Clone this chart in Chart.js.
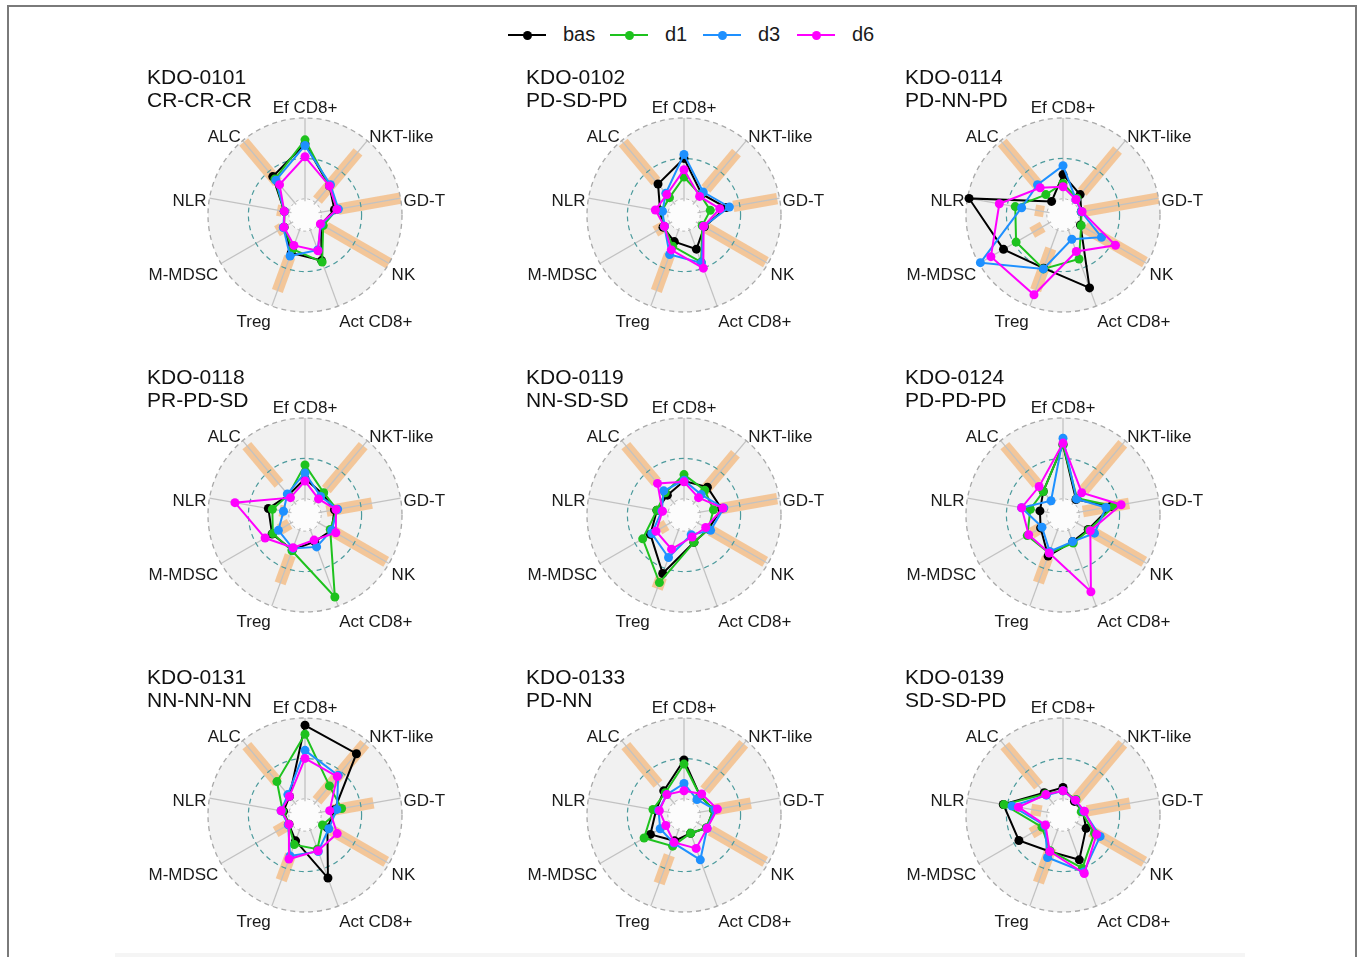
<!DOCTYPE html>
<html>
<head>
<meta charset="utf-8">
<script src="https://cdn.jsdelivr.net/npm/chart.js@4.4.1/dist/chart.umd.min.js"></script>
<style>
  html, body { margin: 0; padding: 0; background: #ffffff; }
  body { width: 1360px; height: 957px; position: relative; overflow: hidden;
         font-family: "Liberation Sans", Arial, Helvetica, sans-serif; }
  #frame { position: absolute; left: 7px; top: 5px; width: 1350px; height: 980px;
           border: 2px solid #7a7a7a; border-bottom: none; box-sizing: border-box; }
  #foot { position: absolute; left: 115px; top: 953px; width: 1130px; height: 4px; background: #f5f5f5; }
  canvas.radar { position: absolute; }
  .title { position: absolute; font-size: 21px; line-height: 22.5px; color: #111; white-space: pre; }
  .key-line { position: absolute; height: 2px; width: 38px; }
  .key-dot { position: absolute; width: 9px; height: 9px; border-radius: 50%; }
  .key-text { position: absolute; font-size: 20px; line-height: 24px; color: #1a1a1a; }
</style>
</head>
<body>
<div id="frame"></div>
<div id="foot"></div>
<div id="legend"></div>
<div id="panels"></div>
<script>
// Axes of each radar, clockwise from the top
const axisLabels = ['Ef CD8+', 'NKT-like', 'GD-T', 'NK', 'Act CD8+', 'Treg', 'M-MDSC', 'NLR', 'ALC'];

// Patients and their response sequence
const patients  = ['KDO-0101', 'KDO-0102', 'KDO-0114', 'KDO-0118', 'KDO-0119', 'KDO-0124', 'KDO-0131', 'KDO-0133', 'KDO-0139'];
const responses = ['CR-CR-CR', 'PD-SD-PD', 'PD-NN-PD', 'PR-PD-SD', 'NN-SD-SD', 'PD-PD-PD', 'NN-NN-NN', 'PD-NN', 'SD-SD-PD'];

// Time points
const timepoints = ['bas', 'd1', 'd3', 'd6'];

// Scaled values (0 = inner ring, 1 = outer ring), one row per patient, axis order as above
const bas = [
  [0.68, 0.27, 0.17, 0.03, 0.40, 0.30, 0.10, 0.06, 0.42],
  [0.50, 0.14, 0.33, 0.09, 0.25, 0.15, 0.10, 0.10, 0.30],
  [0.30, 0.13, 0.03, 0.05, 0.76, 0.50, 0.65, 0.98, 0.02],
  [0.25, 0.14, 0.17, 0.18, 0.15, 0.26, 0.27, 0.26, 0.12],
  [0.22, 0.25, 0.27, 0.15, 0.16, 0.57, 0.28, 0.14, 0.12],
  [0.67, 0.05, 0.40, 0.16, 0.15, 0.34, 0.12, 0.09, 0.18],
  [0.91, 0.79, 0.17, 0.12, 0.63, 0.14, 0.03, 0.07, 0.10],
  [0.48, 0.11, 0.17, 0.12, 0.04, 0.14, 0.28, 0.15, 0.19],
  [0.14, 0.02, 0.05, 0.13, 0.39, 0.28, 0.43, 0.55, 0.16]
];
const d1 = [
  [0.73, 0.27, 0.20, 0.06, 0.42, 0.25, 0.10, 0.06, 0.38],
  [0.27, 0.12, 0.13, 0.06, 0.42, 0.21, 0.08, 0.08, 0.08],
  [0.19, 0.07, 0.03, 0.06, 0.38, 0.51, 0.47, 0.40, 0.13],
  [0.42, 0.16, 0.20, 0.16, 0.88, 0.27, 0.26, 0.21, 0.12],
  [0.30, 0.20, 0.17, 0.15, 0.16, 0.69, 0.39, 0.14, 0.16],
  [0.67, 0.07, 0.44, 0.17, 0.17, 0.30, 0.31, 0.21, 0.18],
  [0.80, 0.27, 0.26, 0.05, 0.25, 0.19, 0.03, 0.08, 0.34],
  [0.43, 0.11, 0.17, 0.12, 0.04, 0.21, 0.37, 0.19, 0.16],
  [0.10, 0.05, 0.03, 0.25, 0.50, 0.27, 0.10, 0.54, 0.14]
];
const d3 = [
  [0.66, 0.29, 0.22, 0.03, 0.26, 0.34, 0.11, 0.06, 0.36],
  [0.55, 0.17, 0.37, 0.08, 0.43, 0.32, 0.08, 0.07, 0.15],
  [0.41, 0.05, 0.03, 0.35, 0.12, 0.51, 0.98, 0.32, 0.29],
  [0.32, 0.10, 0.21, 0.18, 0.22, 0.24, 0.18, 0.07, 0.14],
  [0.23, 0.13, 0.30, 0.18, 0.06, 0.36, 0.26, 0.08, 0.19],
  [0.75, 0.06, 0.34, 0.25, 0.15, 0.28, 0.10, 0.32, 0.03],
  [0.60, 0.44, 0.20, 0.14, 0.28, 0.34, 0.04, 0.10, 0.13],
  [0.19, 0.05, 0.19, 0.13, 0.39, 0.17, 0.14, 0.12, 0.13],
  [0.10, 0.04, 0.06, 0.33, 0.55, 0.36, 0.06, 0.44, 0.12]
];
const d6 = [
  [0.52, 0.27, 0.20, 0.02, 0.27, 0.20, 0.10, 0.06, 0.29],
  [0.36, 0.10, 0.25, 0.08, 0.50, 0.26, 0.08, 0.16, 0.13],
  [0.15, 0.05, 0.04, 0.55, 0.28, 0.85, 0.83, 0.60, 0.24],
  [0.22, 0.06, 0.19, 0.24, 0.13, 0.23, 0.37, 0.68, 0.08],
  [0.21, 0.08, 0.29, 0.11, 0.09, 0.25, 0.20, 0.07, 0.31],
  [0.69, 0.16, 0.53, 0.19, 0.81, 0.30, 0.29, 0.32, 0.26],
  [0.50, 0.42, 0.11, 0.26, 0.27, 0.38, 0.03, 0.10, 0.10],
  [0.10, 0.14, 0.22, 0.13, 0.24, 0.16, 0.06, 0.11, 0.13],
  [0.10, 0.04, 0.07, 0.28, 0.57, 0.28, 0.05, 0.36, 0.13]
];

// Reference range per axis (null = no range shown)
const rangeLow = [
  [null, 0.04, 0.22, 0.10, null, 0.35, 0.13, 0.09, 0.33],
  [null, 0.22, 0.42, 0.13, null, 0.32, 0.10, null, 0.34],
  [null, 0.17, 0.07, 0.11, null, 0.24, 0.09, 0.04, 0.28],
  [null, 0.21, 0.07, 0.20, null, 0.33, 0.02, 0.05, 0.30],
  [null, 0.19, 0.26, 0.18, null, 0.62, 0.05, null, 0.33],
  [null, 0.20, 0.05, 0.20, null, 0.36, 0.10, null, 0.30],
  [null, 0.03, 0.13, 0.18, null, 0.32, 0.06, null, 0.33],
  [null, 0.20, 0.19, 0.18, null, 0.33, null, null, 0.30],
  [null, 0.05, 0.10, 0.20, null, 0.23, 0.08, 0.07, 0.27]
];
const rangeHigh = [
  [null, 0.82, 1.00, 1.00, null, 0.80, 0.20, 0.15, 0.98],
  [null, 0.81, 0.97, 0.97, null, 0.80, 0.21, null, 0.97],
  [null, 0.85, 1.00, 0.97, null, 0.79, 0.24, 0.15, 0.97],
  [null, 0.92, 0.64, 0.96, null, 0.70, 0.16, 0.12, 0.92],
  [null, 0.79, 0.97, 0.96, null, 0.77, 0.15, null, 0.92],
  [null, 0.95, 0.63, 0.96, null, 0.69, 0.25, null, 0.92],
  [null, 0.95, 0.66, 0.96, null, 0.66, 0.22, null, 0.92],
  [null, 0.95, 0.64, 0.96, null, 0.70, null, null, 0.92],
  [null, 0.95, 0.64, 0.96, null, 0.69, 0.25, 0.20, 0.92]
];

// ---- styling ----
const seriesValues = [bas, d1, d3, d6];
const seriesColors = ['#000000', '#1ec21e', '#1e90ff', '#ff00ff'];
const FONT = '"Liberation Sans", Arial, Helvetica, sans-serif';
const LABEL_DY = [-6.7, -1.5, 4, 10, 13.5, 13.5, 10, 4, -1.5];

// legend across the top
(function buildLegend() {
  const host = document.getElementById('legend');
  const lineLeft = [508, 610, 703, 797];
  timepoints.forEach((name, i) => {
    const line = document.createElement('div');
    line.className = 'key-line';
    line.style.left = lineLeft[i] + 'px';
    line.style.top = '34px';
    line.style.background = seriesColors[i];
    host.appendChild(line);
    const dot = document.createElement('div');
    dot.className = 'key-dot';
    dot.style.left = (lineLeft[i] + 19 - 4.5) + 'px';
    dot.style.top = (35 - 4.5) + 'px';
    dot.style.background = seriesColors[i];
    host.appendChild(dot);
    const txt = document.createElement('div');
    txt.className = 'key-text';
    txt.textContent = name;
    txt.style.left = (lineLeft[i] + 55) + 'px';
    txt.style.top = '22px';
    host.appendChild(txt);
  });
})();

// grid rings, shaded ranges, spokes and axis names behind the series
function makeBackdrop(k) {
  return {
    id: 'radarBackdrop',
    beforeDatasetsDraw(chart) {
      const s = chart.scales.r;
      const ctx = chart.ctx;
      const cx = s.xCenter, cy = s.yCenter;
      const rOuter = s.getDistanceFromCenterForValue(1);
      const rMid = s.getDistanceFromCenterForValue(0.5);
      const rInner = s.getDistanceFromCenterForValue(0);
      ctx.save();
      ctx.fillStyle = '#f1f1f1';
      ctx.beginPath(); ctx.arc(cx, cy, rOuter, 0, Math.PI * 2); ctx.fill();
      ctx.fillStyle = '#fcfcfc';
      ctx.beginPath(); ctx.arc(cx, cy, rInner, 0, Math.PI * 2); ctx.fill();

      // reference ranges
      ctx.strokeStyle = 'rgba(246,160,72,0.52)';
      ctx.lineWidth = 11.5;
      ctx.lineCap = 'butt';
      rangeLow[k].forEach((lo, i) => {
        const hi = rangeHigh[k][i];
        if (lo === null || hi === null) return;
        const a = s.getPointPositionForValue(i, lo);
        const b = s.getPointPositionForValue(i, hi);
        ctx.beginPath(); ctx.moveTo(a.x, a.y); ctx.lineTo(b.x, b.y); ctx.stroke();
      });

      // spokes
      ctx.strokeStyle = '#c2c2c2';
      ctx.lineWidth = 1.3;
      axisLabels.forEach((_, i) => {
        const a = s.getPointPositionForValue(i, -0.03);
        const b = s.getPointPositionForValue(i, 1);
        ctx.beginPath(); ctx.moveTo(a.x, a.y); ctx.lineTo(b.x, b.y); ctx.stroke();
      });

      // rings
      ctx.setLineDash([5, 4]);
      ctx.lineWidth = 1.3;
      ctx.strokeStyle = '#a9a9a9';
      ctx.beginPath(); ctx.arc(cx, cy, rOuter, 0, Math.PI * 2); ctx.stroke();
      ctx.strokeStyle = '#4b9a9c';
      ctx.lineWidth = 1.2;
      ctx.beginPath(); ctx.arc(cx, cy, rMid, 0, Math.PI * 2); ctx.stroke();
      ctx.setLineDash([3, 3]);
      ctx.strokeStyle = '#b5b5b5';
      ctx.lineWidth = 1;
      ctx.beginPath(); ctx.arc(cx, cy, rInner, 0, Math.PI * 2); ctx.stroke();
      ctx.setLineDash([]);

      // axis names
      ctx.font = '17px ' + FONT;
      ctx.fillStyle = '#1a1a1a';
      ctx.textBaseline = 'middle';
      chart.data.labels.forEach((lab, i) => {
        const p = s.getPointPosition(i, s.drawingArea * 100 / 97);
        ctx.textAlign = i === 0 ? 'center' : (i <= 4 ? 'left' : 'right');
        ctx.fillText(lab, p.x, p.y + LABEL_DY[i]);
      });
      ctx.restore();
    }
  };
}

const host = document.getElementById('panels');
const CW = 378, CH = 300;

patients.forEach((pid, k) => {
  const col = k % 3, row = Math.floor(k / 3);
  const cx = 305 + 379 * col;
  const cy = 215 + 300 * row;

  const cv = document.createElement('canvas');
  cv.className = 'radar';
  cv.width = CW; cv.height = CH;
  cv.style.width = CW + 'px'; cv.style.height = CH + 'px';
  cv.style.left = (cx - CW / 2) + 'px';
  cv.style.top = (cy - CH / 2) + 'px';
  host.appendChild(cv);

  const title = document.createElement('div');
  title.className = 'title';
  title.textContent = pid + '\n' + responses[k];
  title.style.left = (cx - 158) + 'px';
  title.style.top = (cy - 149) + 'px';
  host.appendChild(title);

  new Chart(cv.getContext('2d'), {
    type: 'radar',
    data: {
      labels: axisLabels,
      datasets: timepoints.map((name, j) => ({
        label: name,
        data: seriesValues[j][k],
        borderColor: seriesColors[j],
        backgroundColor: seriesColors[j],
        pointBackgroundColor: seriesColors[j],
        pointBorderColor: seriesColors[j],
        pointBorderWidth: 0,
        pointRadius: 4.5,
        borderWidth: 2,
        fill: false,
        tension: 0,
        clip: false,
        order: timepoints.length - j
      }))
    },
    options: {
      responsive: false,
      animation: false,
      events: [],
      layout: { padding: { left: (CW - 194) / 2, right: (CW - 194) / 2, top: (CH - 194) / 2, bottom: (CH - 194) / 2 } },
      plugins: { legend: { display: false }, tooltip: { enabled: false } },
      scales: {
        r: {
          min: -0.2,
          max: 1,
          ticks: { display: false },
          grid: { display: false },
          angleLines: { display: false },
          pointLabels: { display: false }
        }
      }
    },
    plugins: [makeBackdrop(k)]
  });
});
</script>
</body>
</html>
